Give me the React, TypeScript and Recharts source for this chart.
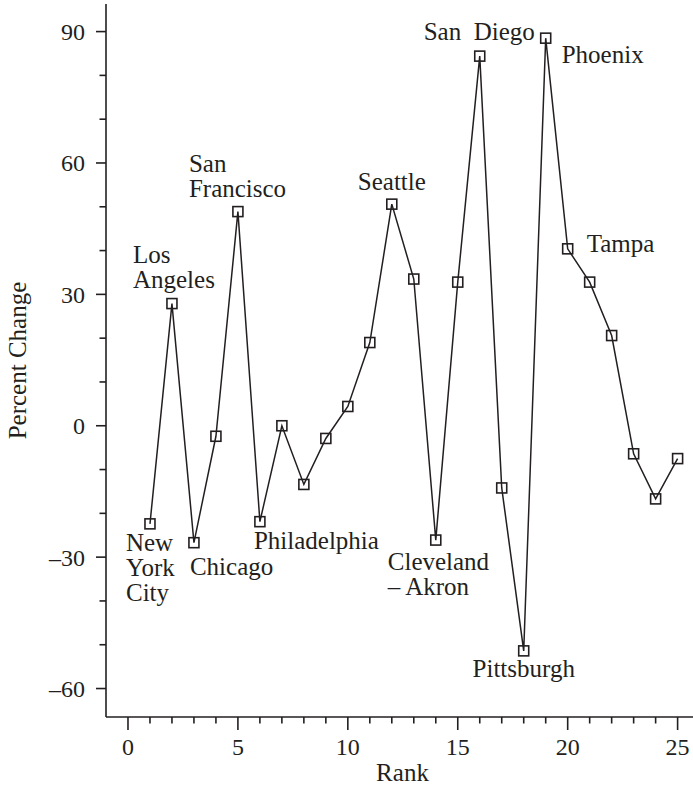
import { LineChart, Line, XAxis, YAxis, LabelList, Label } from 'recharts';

const ranks = [1, 2, 3, 4, 5, 6, 7, 8, 9, 10, 11, 12, 13, 14, 15, 16, 17, 18, 19, 20, 21, 22, 23, 24, 25];
const percentChange = [
  -22.4, 27.9, -26.7, -2.4, 48.9, -21.9, 0.0, -13.4, -2.9, 4.4, 19.0, 50.6, 33.5,
  -26.1, 32.8, 84.4, -14.2, -51.4, 88.5, 40.4, 32.8, 20.6, -6.4, -16.7, -7.5,
];
const cities = [
  'New York City', 'Los Angeles', 'Chicago', '', 'San Francisco', 'Philadelphia', '', '', '', '', '',
  'Seattle', '', 'Cleveland–Akron', '', 'San Diego', '', 'Pittsburgh', 'Phoenix', 'Tampa', '', '', '', '', '',
];
const xTicks = [0, 1, 2, 3, 4, 5, 6, 7, 8, 9, 10, 11, 12, 13, 14, 15, 16, 17, 18, 19, 20, 21, 22, 23, 24, 25];
const yTicks = [-60, -50, -40, -30, -20, -10, 0, 10, 20, 30, 40, 50, 60, 70, 80, 90];

const data = ranks.map((r, i) => ({ rank: r, pct: percentChange[i], city: cities[i] }));

const INK = '#231f20';
const SERIF = '"Liberation Serif", "Times New Roman", serif';

// where each city name sits relative to its marker (first baseline)
const cityLabelStyle: Record<string, { lines: string[]; dx: number; dy: number; anchor: 'start' | 'middle' | 'end' }> = {
  'New York City': { lines: ['New', 'York', 'City'], dx: -24, dy: 27, anchor: 'start' },
  'Los Angeles': { lines: ['Los', 'Angeles'], dx: -39, dy: -41, anchor: 'start' },
  Chicago: { lines: ['Chicago'], dx: -4, dy: 32, anchor: 'start' },
  'San Francisco': { lines: ['San', 'Francisco'], dx: -49, dy: -40, anchor: 'start' },
  Philadelphia: { lines: ['Philadelphia'], dx: -6, dy: 27, anchor: 'start' },
  Seattle: { lines: ['Seattle'], dx: 0, dy: -14, anchor: 'middle' },
  'Cleveland–Akron': { lines: ['Cleveland', '– Akron'], dx: -48, dy: 30, anchor: 'start' },
  'San Diego': { lines: ['San\u00a0\u00a0Diego'], dx: 55, dy: -16, anchor: 'end' },
  Pittsburgh: { lines: ['Pittsburgh'], dx: 0, dy: 26, anchor: 'middle' },
  Phoenix: { lines: ['Phoenix'], dx: 16, dy: 25, anchor: 'start' },
  Tampa: { lines: ['Tampa'], dx: 19, dy: 3, anchor: 'start' },
};

const fmt = (v: number) => (v < 0 ? `–${Math.abs(v)}` : `${v}`);

function YTick({ x, y, payload }: any) {
  const major = payload.value % 30 === 0;
  return (
    <g>
      <line x1={x - (major ? 10 : 6.5)} x2={x} y1={y} y2={y} stroke={INK} strokeWidth={1.6} />
      {major && (
        <text x={x - 21} y={y + 8.5} textAnchor="end" fontSize={24} fill={INK} fontFamily={SERIF}>
          {fmt(payload.value)}
        </text>
      )}
    </g>
  );
}

function XTick({ x, y, payload }: any) {
  const major = payload.value % 5 === 0;
  return (
    <g>
      <line x1={x} x2={x} y1={y} y2={y + (major ? 13 : 6.5)} stroke={INK} strokeWidth={1.6} />
      {major && (
        <text x={x} y={y + 38} textAnchor="middle" fontSize={24} fill={INK} fontFamily={SERIF}>
          {payload.value}
        </text>
      )}
    </g>
  );
}

function SquareDot({ cx, cy, index }: any) {
  if (cx == null || cy == null) return null;
  return <rect key={index} x={cx - 5} y={cy - 5} width={10} height={10} fill="none" stroke={INK} strokeWidth={1.6} />;
}

function CityLabel(props: any) {
  const s = cityLabelStyle[props.value];
  if (!s) return null;
  const x = props.x ?? props.viewBox?.x;
  const y = props.y ?? props.viewBox?.y;
  return (
    <text x={x + s.dx} y={y + s.dy} textAnchor={s.anchor} fontSize={25} fill={INK} fontFamily={SERIF}>
      {s.lines.map((ln, i) => (
        <tspan key={i} x={x + s.dx} dy={i === 0 ? 0 : 25}>
          {ln}
        </tspan>
      ))}
    </text>
  );
}

function YTitle({ viewBox }: any) {
  const cx = viewBox.x + 17;
  const cy = viewBox.y + viewBox.height / 2;
  return (
    <text x={cx} y={cy} transform={`rotate(-90 ${cx} ${cy})`} textAnchor="middle" dominantBaseline="central" fontSize={25} fill={INK} fontFamily={SERIF}>
      Percent Change
    </text>
  );
}

function XTitle({ viewBox }: any) {
  return (
    <text x={viewBox.x + viewBox.width / 2 + 3} y={viewBox.y + 64} textAnchor="middle" fontSize={25} fill={INK} fontFamily={SERIF}>
      Rank
    </text>
  );
}

export default function App() {
  return (
    <div style={{ position: 'absolute', left: 0, top: 0, width: 693, height: 785, background: '#fff' }}>
      <LineChart width={693} height={785} data={data} margin={{ top: 4, right: 0, bottom: 0, left: 0 }}>
        <XAxis
          dataKey="rank"
          type="number"
          domain={[-1, 25.7]}
          ticks={xTicks}
          interval={0}
          allowDataOverflow
          height={68}
          tickSize={0}
          tickMargin={0}
          tick={<XTick />}
          axisLine={{ stroke: INK, strokeWidth: 1.6 }}
        >
          <Label content={<XTitle />} />
        </XAxis>
        <YAxis
          type="number"
          domain={[-66.5, 96.3]}
          ticks={yTicks}
          interval={0}
          allowDataOverflow
          width={106}
          tickSize={0}
          tickMargin={0}
          tick={<YTick />}
          axisLine={{ stroke: INK, strokeWidth: 1.6 }}
        >
          <Label content={<YTitle />} />
        </YAxis>
        <Line
          type="linear"
          dataKey="pct"
          stroke={INK}
          strokeWidth={1.5}
          dot={<SquareDot />}
          activeDot={false}
          isAnimationActive={false}
        >
          <LabelList dataKey="city" content={<CityLabel />} />
        </Line>
      </LineChart>
    </div>
  );
}
